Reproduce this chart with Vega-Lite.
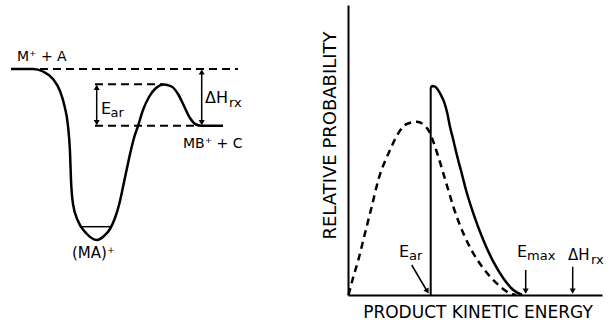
{
  "$schema": "https://vega.github.io/schema/vega-lite/v6.json",
  "background": "white",
  "padding": {"left": 0, "top": 5, "right": 0, "bottom": 0},
  "spacing": 88,
  "bounds": "flush",
  "config": {"view": {"stroke": null}, "font": "DejaVu Sans"},
  "hconcat": [
    {
      "width": 260,
      "height": 290,
      "encoding": {
        "x": {"field": "rc", "type": "quantitative", "scale": {"domain": [0, 260], "nice": false, "zero": false}, "axis": null},
        "y": {"field": "e", "type": "quantitative", "scale": {"domain": [-226, 64], "nice": false, "zero": false}, "axis": null}
      },
      "layer": [
        {
          "data": {"values": [
            {"rc": 40, "rc2": 238, "e": 0},
            {"rc": 95, "rc2": 163, "e": -15.3},
            {"rc": 95, "rc2": 196, "e": -56.7}
          ]},
          "mark": {"type": "rule", "strokeDash": [8, 5], "strokeWidth": 2, "color": "black"},
          "encoding": {"x2": {"field": "rc2"}}
        },
        {
          "data": {"values": [{"rc": 81.7, "rc2": 111.7, "e": -157.7}]},
          "mark": {"type": "rule", "strokeWidth": 1.5, "color": "black"},
          "encoding": {"x2": {"field": "rc2"}}
        },
        {
          "data": {"values": [
            {"rc": 11, "e": 0}, {"rc": 33, "e": 0}, {"rc": 43, "e": -2.5}, {"rc": 53, "e": -10},
            {"rc": 60, "e": -22}, {"rc": 64.5, "e": -37}, {"rc": 68, "e": -57}, {"rc": 70, "e": -83},
            {"rc": 71, "e": -111}, {"rc": 73, "e": -135}, {"rc": 78, "e": -152}, {"rc": 86, "e": -164},
            {"rc": 97, "e": -171}, {"rc": 104, "e": -167}, {"rc": 110, "e": -160}, {"rc": 115, "e": -149},
            {"rc": 119, "e": -136}, {"rc": 123, "e": -118}, {"rc": 127, "e": -99}, {"rc": 130.5, "e": -83},
            {"rc": 134, "e": -69}, {"rc": 138, "e": -57}, {"rc": 143, "e": -41}, {"rc": 149, "e": -28},
            {"rc": 156, "e": -19}, {"rc": 163.5, "e": -15.5}, {"rc": 171.5, "e": -17.5}, {"rc": 178, "e": -25},
            {"rc": 184, "e": -37}, {"rc": 190, "e": -49}, {"rc": 196, "e": -55.5}, {"rc": 201, "e": -56.7},
            {"rc": 223, "e": -56.7}
          ]},
          "mark": {"type": "line", "interpolate": "monotone", "strokeWidth": 2.5, "color": "black"}
        },
        {
          "data": {"values": [
            {"rc": 96.7, "e": -17, "e2": -55},
            {"rc": 201.7, "e": -2, "e2": -55}
          ]},
          "mark": {"type": "rule", "strokeWidth": 1.5, "color": "black"},
          "encoding": {"y2": {"field": "e2"}}
        },
        {
          "data": {"values": [
            {"rc": 96.7, "e": -18.3, "dir": "up"},
            {"rc": 96.7, "e": -53.7, "dir": "down"},
            {"rc": 201.7, "e": -3, "dir": "up"},
            {"rc": 201.7, "e": -53.7, "dir": "down"}
          ]},
          "mark": {"type": "point", "filled": true, "size": 36, "color": "black", "opacity": 1},
          "encoding": {"shape": {"field": "dir", "type": "nominal", "scale": {"domain": ["up", "down"], "range": ["triangle-up", "triangle-down"]}, "legend": null}}
        },
        {
          "data": {"values": [
            {"rc": 101, "e": -45, "label": "E"},
            {"rc": 205, "e": -34, "label": "ΔH"}
          ]},
          "mark": {"type": "text", "align": "left", "baseline": "alphabetic", "fontSize": 16, "color": "black"},
          "encoding": {"text": {"field": "label"}}
        },
        {
          "data": {"values": [
            {"rc": 110.5, "e": -48, "label": "ar"},
            {"rc": 229, "e": -38, "label": "rx"}
          ]},
          "mark": {"type": "text", "align": "left", "baseline": "alphabetic", "fontSize": 13, "color": "black"},
          "encoding": {"text": {"field": "label"}}
        },
        {
          "data": {"values": [
            {"rc": 17, "e": 8, "label": "M⁺ + A"},
            {"rc": 183, "e": -79, "label": "MB⁺ + C"}
          ]},
          "mark": {"type": "text", "align": "left", "baseline": "alphabetic", "fontSize": 14, "color": "black"},
          "encoding": {"text": {"field": "label"}}
        },
        {
          "data": {"values": [{"rc": 72, "e": -189, "label": "(MA)⁺"}]},
          "mark": {"type": "text", "align": "left", "baseline": "alphabetic", "fontSize": 15, "color": "black"},
          "encoding": {"text": {"field": "label"}}
        }
      ]
    },
    {
      "width": 254,
      "height": 290,
      "encoding": {
        "x": {"field": "ke", "type": "quantitative", "scale": {"domain": [0, 127], "nice": false, "zero": false},
          "axis": {"title": "PRODUCT KINETIC ENERGY", "labels": false, "ticks": false, "grid": false, "domainColor": "black", "domainWidth": 2, "titleFontSize": 17, "titleFontWeight": "normal", "titleColor": "black", "titlePadding": 9, "titleX": 129.5}},
        "y": {"field": "p", "type": "quantitative", "scale": {"domain": [0, 145], "nice": false, "zero": false},
          "axis": {"title": "RELATIVE PROBABILITY", "labels": false, "ticks": false, "grid": false, "domainColor": "black", "domainWidth": 2, "titleFontSize": 18, "titleFontWeight": "normal", "titleColor": "black", "titlePadding": 9, "titleY": 130}}
      },
      "layer": [
        {
          "data": {"values": [{"ke": 41.35, "p": 0, "p2": 103.5}]},
          "mark": {"type": "rule", "strokeWidth": 2, "color": "black"},
          "encoding": {"y2": {"field": "p2"}}
        },
        {
          "data": {"values": [
            {"ke": 41.35, "p": 103.5}, {"ke": 42, "p": 104.5}, {"ke": 43.5, "p": 104.2}, {"ke": 46, "p": 100.85},
            {"ke": 48, "p": 96.65}, {"ke": 49.65, "p": 90.85}, {"ke": 51, "p": 84.15}, {"ke": 52.65, "p": 77.5},
            {"ke": 54.65, "p": 69.15}, {"ke": 56.85, "p": 60.85}, {"ke": 59, "p": 52.5}, {"ke": 62.65, "p": 40.85},
            {"ke": 67.65, "p": 27.5}, {"ke": 72.65, "p": 16.65}, {"ke": 77.65, "p": 8.35}, {"ke": 82.65, "p": 2.5},
            {"ke": 87, "p": 0}
          ]},
          "mark": {"type": "line", "interpolate": "monotone", "strokeWidth": 2.5, "color": "black"}
        },
        {
          "data": {"values": [
            {"ke": 0.25, "p": 0}, {"ke": 2.5, "p": 8.5}, {"ke": 5.15, "p": 17.5}, {"ke": 8.5, "p": 30.85},
            {"ke": 11.85, "p": 44.15}, {"ke": 15.15, "p": 57.5}, {"ke": 21, "p": 72.5}, {"ke": 25.15, "p": 80.85},
            {"ke": 29.35, "p": 85.5}, {"ke": 34.35, "p": 86.65}, {"ke": 38.5, "p": 84.5}, {"ke": 40.65, "p": 81.65},
            {"ke": 42.65, "p": 76.65}, {"ke": 45.15, "p": 69.15}, {"ke": 47.65, "p": 60.85}, {"ke": 50.15, "p": 52.5},
            {"ke": 52.65, "p": 44.15}, {"ke": 57.65, "p": 30.85}, {"ke": 62.65, "p": 20.85}, {"ke": 67.65, "p": 13.35},
            {"ke": 74.35, "p": 5.85}, {"ke": 81, "p": 0.85}, {"ke": 84, "p": 0}
          ]},
          "mark": {"type": "line", "interpolate": "monotone", "strokeWidth": 2.5, "strokeDash": [7, 5], "color": "black"}
        },
        {
          "data": {"values": [
            {"ke": 31.85, "p": 15, "ke2": 39.65, "p2": 1.75},
            {"ke": 88.85, "p": 12.5, "ke2": 88.85, "p2": 2},
            {"ke": 112.35, "p": 14.15, "ke2": 112.35, "p2": 2}
          ]},
          "mark": {"type": "rule", "strokeWidth": 1.5, "color": "black"},
          "encoding": {"x2": {"field": "ke2"}, "y2": {"field": "p2"}}
        },
        {
          "data": {"values": [
            {"ke": 88.85, "p": 1.9, "dir": "down"},
            {"ke": 112.35, "p": 1.9, "dir": "down"}
          ]},
          "mark": {"type": "point", "filled": true, "size": 36, "color": "black", "opacity": 1},
          "encoding": {"shape": {"field": "dir", "type": "nominal", "scale": {"domain": ["up", "down"], "range": ["triangle-up", "triangle-down"]}, "legend": null}}
        },
        {
          "data": {"values": [{"ke": 39.65, "p": 1.9}]},
          "mark": {"type": "point", "shape": "triangle-down", "angle": 330, "filled": true, "size": 36, "color": "black", "opacity": 1}
        },
        {
          "data": {"values": [
            {"ke": 25.5, "p": 19, "label": "E"},
            {"ke": 84.5, "p": 19, "label": "E"}
          ]},
          "mark": {"type": "text", "align": "left", "baseline": "alphabetic", "fontSize": 16, "color": "black"},
          "encoding": {"text": {"field": "label"}}
        },
        {
          "data": {"values": [{"ke": 110, "p": 17.5, "label": "ΔH"}]},
          "mark": {"type": "text", "align": "left", "baseline": "alphabetic", "fontSize": 15, "color": "black"},
          "encoding": {"text": {"field": "label"}}
        },
        {
          "data": {"values": [
            {"ke": 30.5, "p": 17.5, "label": "ar"},
            {"ke": 89.5, "p": 17.5, "label": "max"},
            {"ke": 121.5, "p": 15.5, "label": "rx"}
          ]},
          "mark": {"type": "text", "align": "left", "baseline": "alphabetic", "fontSize": 13, "color": "black"},
          "encoding": {"text": {"field": "label"}}
        }
      ]
    }
  ]
}
